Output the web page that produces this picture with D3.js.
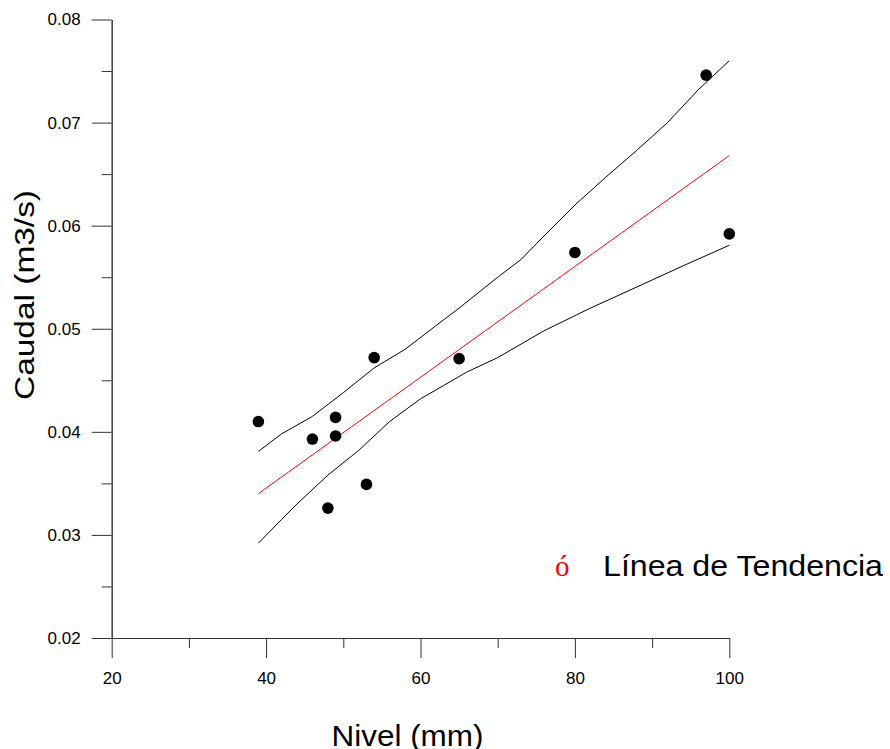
<!DOCTYPE html>
<html>
<head>
<meta charset="utf-8">
<script src="https://cdn.jsdelivr.net/npm/d3@7"></script>
<style>
  body { margin: 0; background: #fff; }
  text { font-family: Arial, "Liberation Sans", sans-serif; }
</style>
</head>
<body>
<div id="chart"></div>
<script>
// Nivel (mm) vs Caudal (m3/s)
const nivel = [39, 46, 49, 49, 48, 53, 54, 65, 80, 97, 100];
const caudal = [0.0410, 0.0393, 0.0414, 0.0396, 0.0326, 0.0349, 0.0472, 0.0471, 0.0574, 0.0746, 0.0592];

// trend line end points
const trendX = [39, 100];
const trendY = [0.0340, 0.0668];

// upper / lower confidence bands
const upperX = [39, 42, 46, 50, 54, 58, 62, 65, 70, 73, 76, 80, 84, 88, 92, 96, 100];
const upperY = [0.0381, 0.0398, 0.0415, 0.0438, 0.0462, 0.0480, 0.0503, 0.0520, 0.0550, 0.0567, 0.0590, 0.0620, 0.0647, 0.0673, 0.0700, 0.0732, 0.0760];
const lowerX = [39, 42, 44, 48, 52, 56, 60, 63, 66, 70, 76, 82, 87, 94, 100];
const lowerY = [0.0292, 0.0315, 0.0330, 0.0358, 0.0382, 0.0410, 0.0432, 0.0445, 0.0458, 0.0472, 0.0498, 0.0520, 0.0537, 0.0561, 0.0581];

const xMajor = [20, 40, 60, 80, 100];
const xMinor = [30, 50, 70, 90];
const yMajor = [0.02, 0.03, 0.04, 0.05, 0.06, 0.07, 0.08];
const yMinor = [0.025, 0.035, 0.045, 0.055, 0.065, 0.075];

const W = 890, H = 749;
const margin = { top: 19.5, left: 111.7 };
const width = 729.3 - margin.left;
const height = 638 - margin.top;

const svg = d3.select('#chart')
  .append('svg')
  .attr('width', W)
  .attr('height', H);

const g = svg.append('g')
  .attr('transform', `translate(${margin.left}, ${margin.top})`);

const x = d3.scaleLinear().domain([20, 100]).range([0, width]);
const y = d3.scaleLinear().domain([0.02, 0.08]).range([height, 0]);

// axes
const axisColor = '#333';
const styleAxis = sel => {
  sel.selectAll('path, line').attr('stroke', axisColor).attr('stroke-width', 1);
  sel.selectAll('text').attr('fill', '#000').style('font-size', '17px');
};

g.append('g')
  .attr('transform', `translate(0, ${height})`)
  .call(d3.axisBottom(x).tickValues(xMinor).tickSize(10).tickSizeOuter(0).tickFormat(''))
  .call(styleAxis);
g.append('g')
  .attr('transform', `translate(0, ${height})`)
  .call(d3.axisBottom(x).tickValues(xMajor).tickSize(20).tickSizeOuter(0).tickPadding(14).tickFormat(d3.format('d')))
  .call(styleAxis);

g.append('g')
  .call(d3.axisLeft(y).tickValues(yMinor).tickSize(10).tickSizeOuter(0).tickFormat(''))
  .call(styleAxis);
g.append('g')
  .call(d3.axisLeft(y).tickValues(yMajor).tickSize(20).tickSizeOuter(0).tickPadding(11).tickFormat(d3.format('.2f')))
  .call(styleAxis);

g.selectAll('.domain').attr('stroke', axisColor);

// bands + trend
const line = d3.line().x(d => x(d[0])).y(d => y(d[1]));

g.append('path')
  .datum(d3.zip(upperX, upperY))
  .attr('d', line)
  .attr('fill', 'none')
  .attr('stroke', '#000')
  .attr('stroke-width', 1);

g.append('path')
  .datum(d3.zip(lowerX, lowerY))
  .attr('d', line)
  .attr('fill', 'none')
  .attr('stroke', '#000')
  .attr('stroke-width', 1);

g.append('path')
  .datum(d3.zip(trendX, trendY))
  .attr('d', line)
  .attr('fill', 'none')
  .attr('stroke', '#ff0000')
  .attr('stroke-width', 1);

// points
g.append('g')
  .selectAll('circle')
  .data(d3.zip(nivel, caudal))
  .enter()
  .append('circle')
  .attr('cx', d => x(d[0]))
  .attr('cy', d => y(d[1]))
  .attr('r', 5.8)
  .attr('fill', '#000');

// axis titles
svg.append('text')
  .attr('transform', 'translate(34, 295) rotate(-90)')
  .attr('text-anchor', 'middle')
  .attr('textLength', 210)
  .attr('lengthAdjust', 'spacingAndGlyphs')
  .style('font-size', '28px')
  .text('Caudal (m3/s)');

svg.append('text')
  .attr('x', 407.5)
  .attr('y', 746)
  .attr('text-anchor', 'middle')
  .attr('textLength', 152)
  .attr('lengthAdjust', 'spacingAndGlyphs')
  .style('font-size', '29px')
  .text('Nivel (mm)');

// legend
svg.append('text')
  .attr('x', 555)
  .attr('y', 576)
  .attr('fill', '#ff0000')
  .style('font-family', '"Liberation Serif", "Times New Roman", serif')
  .style('font-size', '29px')
  .text('ó');

svg.append('text')
  .attr('x', 603)
  .attr('y', 576)
  .attr('textLength', 280)
  .attr('lengthAdjust', 'spacingAndGlyphs')
  .style('font-size', '29px')
  .text('Línea de Tendencia');
</script>
</body>
</html>
